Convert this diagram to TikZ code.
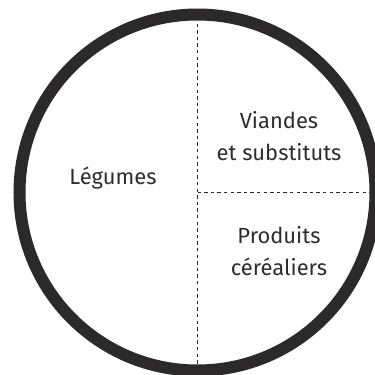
\documentclass[tikz,border=0pt]{standalone}
\usepackage{fontspec}
\setmainfont{Fira Sans}
\definecolor{ring}{HTML}{2B292A}
\definecolor{txt}{HTML}{2E2D2E}
\begin{document}
\begin{tikzpicture}[x=1bp,y=-1bp,
  lbl/.style={text=txt,font=\fontsize{22}{32}\selectfont,align=center,inner sep=0pt},
  divider/.style={draw=ring,line width=1.8bp,dash pattern=on 3.4bp off 3.2bp}]
\useasboundingbox (0,0) rectangle (375,375);
\coordinate (c) at (197.5,192.5);
\coordinate (top) at (197.5,17);
\coordinate (bot) at (197.5,370);
\coordinate (right) at (372,192.5);
\draw[divider] (top) -- (bot);
\draw[divider] (c) -- (right);
\draw[ring,line width=12bp] (c) circle[radius=178];
\node[lbl] (leg) at (113,178) {Légumes};
\node[lbl] (via) at (279,136) {Viandes\\et substituts};
\node[lbl] (pro) at (279,251) {Produits\\céréaliers};
\end{tikzpicture}
\end{document}
